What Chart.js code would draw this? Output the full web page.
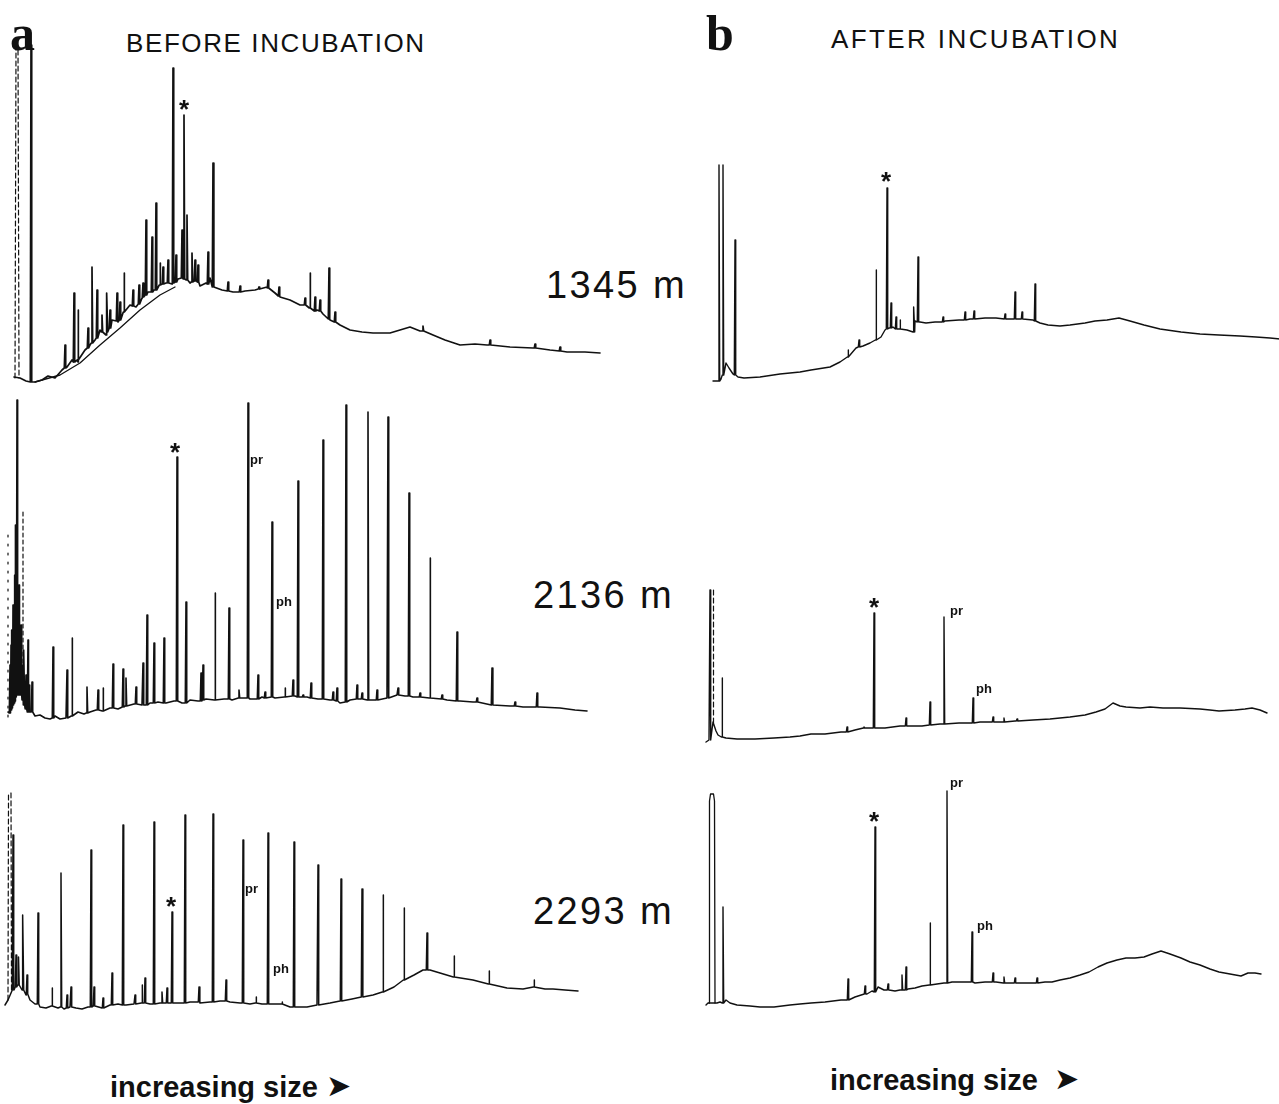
<!DOCTYPE html>
<html>
<head>
<meta charset="utf-8">
<script src="https://cdn.jsdelivr.net/npm/chart.js@4.4.1/dist/chart.umd.min.js"></script>
<style>
  html, body { margin: 0; padding: 0; background: #fff; }
  body { position: relative; width: 1279px; height: 1104px; overflow: hidden; }
  .panel { position: absolute; }
  .panel canvas { display: block; }
  .txt { position: absolute; white-space: nowrap; line-height: 1; color: #111; }
  .letter { font-family: "Liberation Serif", serif; font-weight: bold; font-size: 50px; }
  .head { font-family: "Liberation Sans", sans-serif; font-size: 26px; letter-spacing: 1.6px; }
  .depth { font-family: "Liberation Sans", sans-serif; font-size: 38px; letter-spacing: 2.4px; }
  .foot { font-family: "Liberation Sans", sans-serif; font-weight: bold; font-size: 29px; }
  .foot .arr { font-family: "DejaVu Sans", sans-serif; font-size: 30px; position: relative; top: -1px; }
  .star { font-family: "Liberation Sans", sans-serif; font-weight: bold; font-size: 26px; }
  .cmp { font-family: "Liberation Sans", sans-serif; font-weight: bold; font-size: 13px; }
</style>
</head>
<body>

<div class="txt letter" style="left:10px; top:8px;">a</div>
<div class="txt head" style="left:126px; top:30px;">BEFORE INCUBATION</div>
<div class="txt letter" style="left:706px; top:8px;">b</div>
<div class="txt head" style="left:831px; top:26px; letter-spacing:2.4px;">AFTER INCUBATION</div>

<div class="txt depth" style="left:546px; top:266px;">1345 m</div>
<div class="txt depth" style="left:533px; top:576px;">2136 m</div>
<div class="txt depth" style="left:533px; top:892px;">2293 m</div>

<div class="txt foot" style="left:110px; top:1072px;">increasing size <span class="arr">➤</span></div>
<div class="txt foot" style="left:830px; top:1065px;">increasing size&nbsp; <span class="arr">➤</span></div>

<script>
// Gas chromatograms of extracted hydrocarbons, before (a) and after (b) incubation.
// x: retention time (min), y: detector response. Peaks are [time, apex, foot, halfWidth?].

// ---- 1345 m, before incubation ----
const a1Baseline = [[1.4,13],[2.0,12],[2.6,9],[3.5,8],[4.2,10],[4.8,14],[5.5,12],[6.2,20],[6.7,23],[7.2,30],[7.8,28],[8.5,40],[9.0,45],[9.5,50],[10.0,60],[10.6,55],[11.2,70],[11.8,68],[12.4,78],[13.0,85],[13.6,83],[14.2,92],[14.8,98],[15.4,100],[16.0,105],[16.6,107],[17.2,106],[17.8,111],[18.4,113],[19.0,107],[19.6,110],[20.0,104],[20.6,107],[21.0,112],[21.4,103],[22.2,100],[23.3,98],[24.5,99],[25.5,100],[26.7,103],[27.5,97],[28.0,93],[29.0,90],[30.0,85],[31.0,82],[31.7,80],[32.3,76],[33.0,70],[34.0,65],[35.0,60],[36.2,58],[37.3,57],[39.0,57],[40.0,60],[41.0,63],[42.0,59],[43.3,55],[44.5,50],[46.0,45],[47.5,46],[48.7,45],[51.0,43],[53.3,42],[55.0,40],[56.7,38],[58.5,38],[60.0,37]];
const a1Peaks = [[3.1,345,8],[17.3,322,107],[18.4,275,111],[21.3,227,103],[15.6,187,100],[14.6,170,95],[15.2,153,98],[9.2,123,47],[7.4,97,28],[12.4,117,78],[18.7,175,110],[18.2,160,112],[20.8,138,106],[16.0,127,105],[16.3,123,106],[19.2,137,108],[19.5,130,109],[10.7,97,58],[11.7,97,69],[7.8,80,30],[14.3,107,93],[9.7,100,52],[26.8,110,102],[25.9,103,101],[31.0,117,82],[32.9,122,71],[31.5,93,79],[6.5,45,22],[8.8,62,42],[10.2,75,58],[11.0,80,62],[12.0,88,70],[13.3,100,84],[13.9,105,86],[16.8,130,107],[17.6,135,108],[19.8,125,108],[22.8,108,99],[24.0,104,98],[27.9,103,94],[30.5,92,85],[32.0,90,79],[33.5,78,68],[42.3,64,59],[49.0,50,45],[53.5,46,42],[56.0,43,39]];
const a1Lower = [[3.5,8],[6.0,15],[8.0,27],[10.0,45],[12.0,62],[14.0,80],[16.0,95],[17.5,103]];
const a1Solvent = [[1.5,12],[1.6,343],[1.8,343],[1.9,12]];
const a1Notes = [[18.4,287,'*']];

// ---- 1345 m, after incubation ----
const b1Baseline = [[1.3,9],[1.7,9],[2.1,11],[2.6,27],[2.9,22],[3.3,16],[3.8,13],[4.4,12],[6.0,13],[8.0,16],[10.0,18],[11.1,20],[13.0,23],[14.0,28],[14.8,33],[15.6,42],[16.3,44],[17.0,47],[17.6,50],[18.1,53],[18.5,60],[18.9,62],[19.3,63],[20.0,61],[20.7,60],[21.3,58],[21.5,69],[22.0,68],[22.6,67],[23.5,68],[24.5,69],[25.9,70],[27.0,71],[28.5,72],[29.6,72],[31.0,71],[32.0,71],[33.3,70],[34.0,67],[34.8,65],[36.0,64],[37.0,65],[38.5,67],[39.5,69],[40.7,70],[41.9,72],[43.0,69],[44.4,65],[46.0,61],[48.1,58],[50.0,56],[51.9,55],[54.0,54],[55.6,53],[57.0,52],[58.0,51]];
const b1Peaks = [[1.9,225,9],[2.3,225,15],[3.5,150,15],[17.6,120,50],[18.7,202,61],[21.8,133,68],[31.5,98,71],[33.5,106,69],[19.1,87,62],[19.6,73,61],[20.0,70,61],[21.4,83,58],[26.5,78,70],[27.4,79,71],[32.2,78,71],[24.3,73,68],[14.8,40,33],[15.9,50,43],[30.5,76,71]];
const b1Notes = [[18.6,215,'*']];

// ---- 2136 m, before incubation ----
const a2Baseline = [[0.8,13],[1.2,20],[1.5,25],[2.0,35],[2.2,25],[2.5,17],[3.0,13],[3.5,9],[4.0,10],[4.5,7],[5.0,6],[5.5,9],[6.0,6],[6.6,7],[7.2,9],[7.8,13],[8.4,11],[9.0,13],[9.6,15],[10.3,14],[11.0,17],[11.8,16],[12.6,19],[13.4,21],[14.2,20],[15.0,22],[15.8,23],[16.6,22],[17.4,24],[18.2,22],[19.0,25],[19.8,24],[20.6,26],[21.5,25],[22.4,26],[23.2,25],[24.0,27],[25.0,26],[26.2,28],[27.5,27],[28.5,28],[29.5,29],[30.7,28],[31.8,26],[33.0,25],[34.0,22],[35.0,25],[36.0,26],[37.3,25],[38.7,27],[39.7,30],[40.5,29],[41.3,28],[43.0,27],[44.7,25],[46.0,24],[47.3,23],[49.3,20],[51.0,19],[52.3,18],[54.0,18],[56.0,17],[57.5,15],[58.7,14]];
const a2Peaks = [[1.7,325,30],[1.3,120,20],[1.9,140,30],[2.1,100,30],[2.4,75,20],[1.1,80,15],[1.55,200,28],[1.0,60,12],[1.18,95,17],[1.42,150,22],[1.47,90,24],[1.78,160,31],[1.86,110,32],[2.02,90,34],[2.27,60,27],[2.6,50,16],[2.9,40,13],[2.8,85,13],[3.2,43,13],[5.3,78,7],[6.7,55,7],[7.2,87,9],[8.7,38,12],[9.8,35,15],[10.3,37,14],[11.3,61,17],[12.3,56,18],[12.6,47,19],[13.6,38,21],[14.3,62,20],[14.7,110,20],[15.4,82,22],[16.4,87,22],[17.7,268,24],[18.6,123,22],[20.1,52,24],[20.3,60,25],[21.5,132,25],[22.9,117,26],[24.8,322,27],[25.8,50,26],[27.2,203,28],[28.5,37,28],[29.3,45,29],[29.8,244,28],[31.1,42,27],[32.3,285,26],[33.7,37,24],[34.6,320,23],[35.7,40,26],[36.8,313,25],[38.8,308,27],[39.8,37,30],[40.9,232,29],[42.0,32,28],[43.0,167,27],[45.7,93,24],[49.2,57,20],[53.7,32,18],[23.9,35,27],[26.5,33,27],[30.3,30,28],[33.3,33,25],[36.2,32,26],[37.7,35,25],[44.2,30,26],[47.7,27,23],[51.5,23,19]];
const a2Solvent = [[2.3,213],[2.3,25]];
const a2Ticks = [[0.8,190],[0.8,5]];
const a2Notes = [[17.5,279,'*'],[25.0,264,'pr'],[27.6,122,'ph']];

// ---- 2136 m, after incubation ----
const b2Baseline = [[0.6,8],[0.9,10],[1.3,28],[1.6,19],[1.8,15],[2.2,13],[2.6,12],[3.7,11],[5.5,11],[7.4,12],[9.0,13],[10.0,14],[11.1,16],[12.5,16],[14.1,18],[15.5,20],[16.7,22],[18.5,22],[20.0,24],[22.2,24],[24.0,26],[25.9,27],[28.0,28],[29.6,28],[31.5,29],[33.3,30],[35.0,31],[37.0,33],[38.5,35],[39.6,38],[40.5,41],[41.3,47],[42.0,44],[42.6,43],[44.0,42],[45.0,43],[46.3,42],[48.0,42],[50.0,41],[51.0,40],[51.9,39],[53.5,40],[54.5,41],[55.2,42],[56.0,40],[56.7,37]];
const b2Peaks = [[1.0,160,10],[2.2,72,13],[14.7,23,18],[16.4,23,22],[17.4,137,22],[20.6,32,24],[23.0,48,25],[24.4,133,26],[27.3,52,27],[29.3,33,28],[30.4,32,28],[31.7,31,29]];
const b2Solvent = [[1.35,160],[1.35,25]];
const b2Notes = [[17.4,149,'*'],[25.0,138,'pr'],[27.6,60,'ph']];

// ---- 2293 m, before incubation ----
const a3Baseline = [[0.5,15],[0.8,20],[1.4,30],[1.8,35],[2.2,30],[2.6,25],[3.0,20],[3.5,16],[4.0,13],[4.6,12],[5.2,14],[5.8,12],[6.4,11],[7.0,13],[7.6,12],[8.2,11],[8.8,13],[9.5,14],[10.2,12],[11.0,15],[11.8,16],[12.6,15],[13.4,16],[14.2,17],[15.0,16],[16.0,17],[17.0,17],[18.0,17],[19.0,18],[20.0,17],[21.0,18],[22.0,19],[23.0,18],[24.0,17],[25.0,16],[25.6,17],[26.2,16],[27.3,16],[28.2,16],[29.0,13],[30.7,13],[31.7,15],[33.0,17],[34.0,19],[35.2,21],[36.3,23],[37.3,25],[38.3,28],[39.4,33],[40.4,40],[41.4,45],[42.3,50],[43.0,50],[44.0,47],[45.4,43],[47.3,40],[48.9,36],[50.7,32],[52.3,31],[53.4,33],[54.5,31],[55.3,31],[56.5,30],[57.8,29]];
const a3Peaks = [[1.3,185,30],[1.6,65,33],[1.85,63,35],[2.3,105,30],[2.7,45,26],[3.8,107,16],[5.2,32,14],[6.1,147,13],[6.7,25,12],[7.1,33,13],[9.1,170,13],[9.4,33,14],[10.3,22,12],[11.2,47,15],[12.3,195,15],[13.5,25,16],[14.2,35,17],[14.5,42,17],[15.4,198,16],[16.2,28,17],[16.7,32,17],[17.2,108,17],[18.5,205,17],[19.9,33,18],[21.3,206,18],[22.6,40,19],[24.3,180,17],[25.6,23,17],[26.8,187,16],[28.2,18,16],[29.4,178,13],[31.8,155,15],[34.1,141,19],[36.2,131,23],[38.3,125,28],[40.4,112,40],[42.7,87,50],[45.4,64,43],[48.9,49,36],[53.4,40,33]];
const a3Solvent = [[0.8,20],[0.85,225],[1.1,227],[1.15,30]];
const a3Notes = [[17.1,120,'*'],[24.5,130,'pr'],[27.3,50,'ph']];

// ---- 2293 m, after incubation ----
const b3Baseline = [[0.6,10],[0.8,12],[1.7,12],[2.0,13],[2.6,15],[3.0,12],[3.7,10],[5.0,9],[6.0,8],[7.4,8],[9.0,10],[10.0,11],[11.1,12],[12.5,13],[14.1,15],[15.5,18],[16.7,21],[17.2,24],[17.8,28],[18.4,25],[18.9,25],[19.5,24],[20.0,25],[20.8,26],[21.5,27],[22.2,29],[23.0,30],[23.7,31],[24.4,32],[25.2,33],[25.9,33],[27.5,32],[28.5,33],[29.6,33],[31.0,32],[32.0,32],[33.3,32],[34.5,33],[35.2,33],[36.0,35],[37.0,37],[38.0,40],[38.9,43],[39.8,48],[40.7,52],[41.7,55],[42.6,57],[43.5,57],[44.4,58],[45.2,61],[46.1,64],[47.0,61],[48.1,57],[49.0,53],[50.0,50],[51.0,46],[51.9,43],[53.0,41],[54.1,39],[54.8,42],[55.5,42],[56.1,41]];
const b3Peaks = [[2.3,108,12],[14.8,36,15],[16.5,29,21],[17.5,188,23],[18.8,31,25],[20.2,40,25],[20.6,48,25],[23.0,92,30],[24.7,224,32],[27.2,83,33],[29.3,42,33],[30.4,38,32],[31.5,37,32],[33.7,37,32]];
const b3Solvent = [[0.9,12],[0.95,214],[1.05,221],[1.35,221],[1.45,214],[1.5,12]];
const b3Notes = [[17.4,200,'*'],[25.0,231,'pr'],[27.7,88,'ph']];

// Merge the baseline readings with the peak spikes into one ordered trace.
function buildTrace(baseline, peaks) {
  const pts = baseline.map(([x, y]) => ({ x, y }));
  peaks.forEach(([x, apex, foot, hw]) => {
    const w = hw || 0.07;
    pts.push({ x: x - w, y: foot }, { x, y: apex }, { x: x + w, y: foot });
  });
  pts.sort((p, q) => p.x - q.x);
  return pts;
}
const toXY = arr => arr.map(([x, y]) => ({ x, y }));

const panels = [
  { left: 0,   top: 30,  width: 610, height: 360, xMax: 61, yMax: 360, lw: 1.7,
    sets: [{ data: buildTrace(a1Baseline, a1Peaks) }, { data: toXY(a1Lower), width: 1.3 }, { data: toXY(a1Solvent), dash: [5, 3], width: 1.2 }],
    notes: a1Notes },
  { left: 700, top: 150, width: 580, height: 240, xMax: 58, yMax: 240, lw: 1.4,
    sets: [{ data: buildTrace(b1Baseline, b1Peaks) }], notes: b1Notes },
  { left: 0,   top: 395, width: 610, height: 330, xMax: 61, yMax: 330, lw: 1.6,
    sets: [{ data: buildTrace(a2Baseline, a2Peaks) }, { data: toXY(a2Solvent), dash: [4, 3], width: 1.2 }, { data: toXY(a2Ticks), dash: [2, 7], width: 1.2 }],
    notes: a2Notes },
  { left: 700, top: 570, width: 580, height: 180, xMax: 58, yMax: 180, lw: 1.4,
    sets: [{ data: buildTrace(b2Baseline, b2Peaks) }, { data: toXY(b2Solvent), dash: [5, 3], width: 1.2 }], notes: b2Notes },
  { left: 0,   top: 785, width: 610, height: 235, xMax: 61, yMax: 235, lw: 1.5,
    sets: [{ data: buildTrace(a3Baseline, a3Peaks) }, { data: toXY(a3Solvent), dash: [5, 3], width: 1.2 }], notes: a3Notes },
  { left: 700, top: 780, width: 580, height: 235, xMax: 58, yMax: 235, lw: 1.4,
    sets: [{ data: buildTrace(b3Baseline, b3Peaks) }, { data: toXY(b3Solvent), width: 1.3 }], notes: b3Notes }
];

function placeNotes(chart, p) {
  const xs = chart.scales.x, ys = chart.scales.y;
  p.notes.forEach(([x, y, text]) => {
    const px = p.left + xs.getPixelForValue(x);
    const py = p.top + ys.getPixelForValue(y);
    const el = document.createElement('div');
    if (text === '*') {
      el.className = 'txt star';
      el.style.left = px + 'px';
      el.style.top = (py - 0.276 * 26) + 'px';
      el.style.transform = 'translateX(-50%)';
    } else {
      el.className = 'txt cmp';
      el.style.left = px + 'px';
      el.style.top = (py - 0.59 * 13) + 'px';
    }
    el.textContent = text;
    document.body.appendChild(el);
  });
}

panels.forEach(p => {
  const box = document.createElement('div');
  box.className = 'panel';
  box.style.left = p.left + 'px';
  box.style.top = p.top + 'px';
  const cv = document.createElement('canvas');
  cv.width = p.width; cv.height = p.height;
  cv.style.width = p.width + 'px'; cv.style.height = p.height + 'px';
  box.appendChild(cv);
  document.body.appendChild(box);

  const chart = new Chart(cv, {
    type: 'line',
    data: {
      datasets: p.sets.map(s => ({
        data: s.data,
        borderColor: '#111',
        borderWidth: s.width || p.lw,
        borderDash: s.dash || [],
        borderJoinStyle: 'round',
        borderCapStyle: 'round',
        pointRadius: 0,
        tension: 0,
        fill: false,
        clip: false
      }))
    },
    options: {
      responsive: false,
      animation: false,
      events: [],
      layout: { padding: 0 },
      plugins: { legend: { display: false }, tooltip: { enabled: false } },
      scales: {
        x: { type: 'linear', min: 0, max: p.xMax, display: false },
        y: { type: 'linear', min: 0, max: p.yMax, display: false }
      }
    }
  });
  placeNotes(chart, p);
});
</script>
</body>
</html>
